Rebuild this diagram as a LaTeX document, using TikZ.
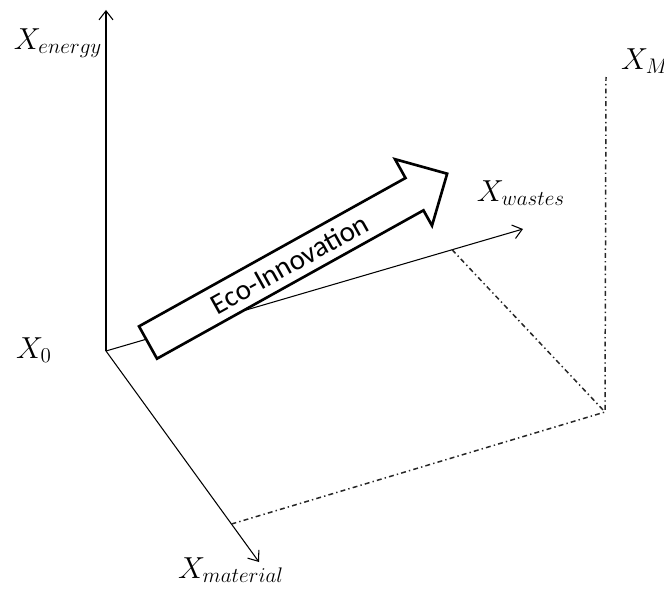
\documentclass[tikz,border=0pt]{standalone}
\usepackage{amsmath}
\usepackage{fontspec}
\newfontfamily\ecofont{Carlito}
\usepackage{tikz}
\usetikzlibrary{arrows.meta,calc}
\tikzset{
  axis/.style={-{Straight Barb[length=1.8mm,width=2.8mm]},draw=black,line width=0.6pt},
  proj/.style={draw=black!85,line width=0.85pt,dash pattern=on 2.8pt off 1.8pt on 0.8pt off 1.8pt},
  lab/.style={font=\LARGE,inner sep=0pt},
  ecoshape/.style={draw=black,line width=1.5pt,fill=white,line join=miter},
  ecotext/.style={font=\ecofont\fontsize{16.5}{20}\selectfont,inner sep=0pt}
}

\begin{document}
\begin{tikzpicture}
\useasboundingbox (-2.12,-4.78) rectangle (11.16,7.02);
\coordinate (o) at (0,0);
\coordinate (etip) at (0,6.82);
\coordinate (wtip) at (8.34,2.44);
\coordinate (mtip) at (3.06,-4.22);
\coordinate (corner) at (9.98,-1.22);
\coordinate (top) at (10.0,5.48);
\coordinate (wfoot) at ($(o)!0.83!(wtip)$);
\coordinate (mfoot) at ($(o)!0.82!(mtip)$);
\node[lab] (xe) at (-0.96,6.16) {$X_{energy}$};
\node[lab] (xw) at (8.3,3.16) {$X_{wastes}$};
\node[lab] (xo) at (-1.44,0.02) {$X_0$};
\node[lab] (xm) at (2.5,-4.38) {$X_{material}$};
\node[lab] (xM) at (10.78,5.8) {$X_M$};
\draw[axis] (o) -- (etip);
\draw[axis] (o) -- (wtip);
\draw[axis] (o) -- (mtip);
\draw[proj] (mfoot) -- (corner) -- (top);
\draw[proj] (wfoot) -- (corner);
\begin{scope}[shift={(0.84,0.17)},rotate=29.1]
\draw[ecoshape] (0,-0.37) -- (6.1,-0.37) -- (6.1,-0.72) -- (6.87,0.04) -- (6.1,0.8) -- (6.1,0.37) -- (0,0.37) -- cycle;
\node[ecotext,rotate=29.1] (eco) at (3.24,0) {Eco-Innovation};
\end{scope}
\end{tikzpicture}
\end{document}
